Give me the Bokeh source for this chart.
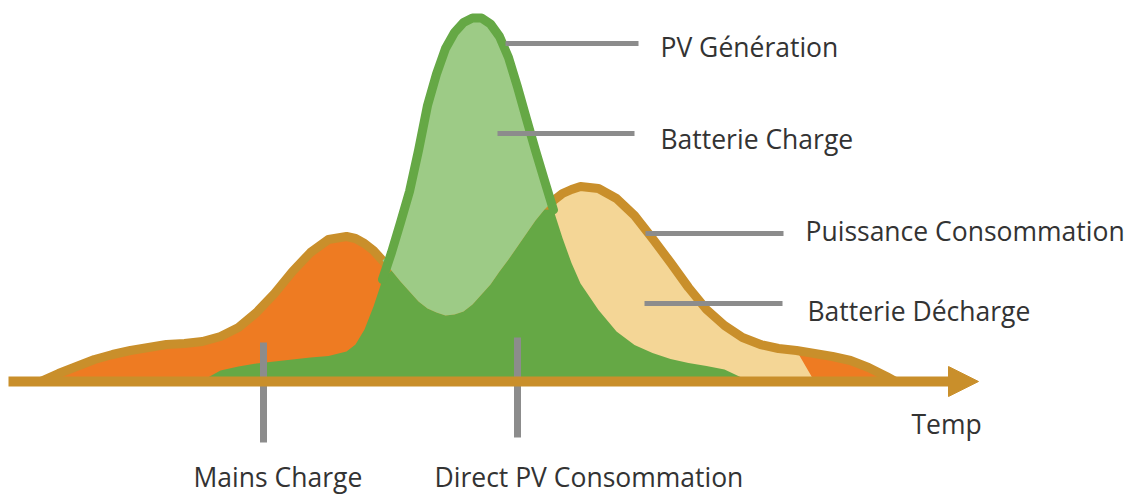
import numpy as np
from bokeh.plotting import figure
from bokeh.models import Range1d, ColumnDataSource, Arrow, NormalHead
from bokeh.core.properties import value
from bokeh.embed import file_html
from bokeh.resources import INLINE

# ---------------- data (time in hours, power in kW) ----------------
hours = [0, 0.5, 1, 1.5, 2, 2.5, 3, 3.5, 4, 4.5, 5, 5.5, 6, 6.5, 7, 7.5, 8, 8.5,
         8.75, 9, 9.25, 9.5, 9.75, 10, 10.25, 10.5, 10.75, 11, 11.25, 11.5, 11.75,
         12, 12.25, 12.5, 12.75, 13, 13.25, 13.5, 13.75, 14, 14.25, 14.5, 14.75,
         15, 15.5, 16, 16.5, 17, 17.5, 18, 18.5, 19, 19.5, 20, 20.5, 21, 21.5,
         22, 22.5, 23, 23.5, 23.75]

consumption = [0, 0.16, 0.30, 0.44, 0.54, 0.62, 0.68, 0.74, 0.76, 0.80, 0.90, 1.08,
               1.38, 1.76, 2.20, 2.58, 2.84, 2.90,
               2.86, 2.76, 2.62, 2.42, 2.22, 2.00, 1.80, 1.60, 1.46, 1.38, 1.32,
               1.34, 1.40, 1.54, 1.74, 1.94, 2.20, 2.44, 2.70, 2.96, 3.22, 3.44,
               3.62, 3.76, 3.84,
               3.90, 3.86, 3.66, 3.32, 2.86, 2.38, 1.88, 1.44, 1.12, 0.88, 0.74,
               0.66, 0.62, 0.56, 0.50, 0.42, 0.28, 0.10, 0]

pv_generation = [0, 0, 0, 0, 0, 0, 0, 0, 0, 0.02, 0.22, 0.30, 0.36, 0.40, 0.44, 0.48,
                 0.51, 0.60,
                 0.74, 1.04, 1.50, 2.04, 2.58, 3.18, 3.80, 4.62, 5.52, 6.15, 6.66,
                 6.98, 7.18, 7.27, 7.27, 7.15, 6.90, 6.48, 5.89, 5.25, 4.62, 4.02,
                 3.43, 2.87, 2.37,
                 1.96, 1.43, 1.00, 0.73, 0.57, 0.45, 0.37, 0.31, 0.24, 0.07, 0,
                 0, 0, 0, 0, 0, 0, 0, 0]

battery_discharge_start = 14.0   # h
battery_empty_top = 21.0         # h
battery_empty_bottom = 21.5      # h

labels = ["PV Génération", "Batterie Charge", "Puissance Consommation",
          "Batterie Décharge", "Temp", "Mains Charge", "Direct PV Consommation"]

# ---------------- styles ----------------
ORANGE = "#EE7B22"
GOLD = "#C98F2B"
DGREEN = "#65A845"
LGREEN = "#9DCB86"
YELLOW = "#F4D696"
GREY = "#8C8C8C"
TXT = "#333333"

t = np.array(hours, dtype=float)
cons = np.array(consumption, dtype=float)
pv = np.array(pv_generation, dtype=float)

# px -> data helpers for annotation layout (x=40px is t0, 36 px/h ; baseline 381px, 50 px/kW)
def tx(px):
    return (px - 40) / 36.0

def ky(py):
    return (381 - py) / 50.0

W, H = 1137, 494
p = figure(width=W, height=H, output_backend="svg", toolbar_location=None,
           x_axis_type=None, y_axis_type=None,
           x_range=Range1d(tx(0), tx(W)), y_range=Range1d(ky(H), ky(0)),
           min_border=0, outline_line_color=None,
           background_fill_color="white", border_fill_color="white")
p.grid.visible = False

# mains (grid) supply: whole area under consumption
p.varea(x=t, y1=0, y2=cons, fill_color=ORANGE)

# battery discharge area
m = (t >= battery_discharge_start) & (t <= battery_empty_top)
xd = list(t[m]) + [battery_empty_bottom]
yd = list(cons[m]) + [0]
p.varea(x=xd, y1=0, y2=yd, fill_color=YELLOW)

# consumption outline
p.line(t, cons, line_color=GOLD, line_width=9, line_join="round", line_cap="round")

# direct PV consumption
p.varea(x=t, y1=0, y2=np.minimum(pv, cons), fill_color=DGREEN)

# battery charge (PV surplus)
idx = np.where(pv > cons)[0]
lo, hi = idx.min() - 1, idx.max() + 1
ts = t[lo:hi + 1]
p.varea(x=ts, y1=cons[lo:hi + 1], y2=np.maximum(pv, cons)[lo:hi + 1], fill_color=LGREEN)

# PV generation outline where visible
p.line(ts, pv[lo:hi + 1], line_color=DGREEN, line_width=9, line_join="round", line_cap="round")

# time axis arrow
p.add_layout(Arrow(x_start=tx(8), y_start=0, x_end=tx(978), y_end=0,
                   line_color=GOLD, line_width=10,
                   end=NormalHead(size=30, fill_color=GOLD, line_color=GOLD, line_width=1)))

# leader lines
hl = ColumnDataSource(dict(x0=[tx(505), tx(497), tx(645), tx(644)],
                           x1=[tx(638), tx(634), tx(783), tx(782)],
                           y=[ky(43), ky(133), ky(233), ky(303)]))
p.segment(x0="x0", y0="y", x1="x1", y1="y", source=hl, line_color=GREY, line_width=5)
vl = ColumnDataSource(dict(x=[tx(263), tx(517)], y0=[ky(342), ky(337)], y1=[ky(442), ky(437)]))
p.segment(x0="x", y0="y0", x1="x", y1="y1", source=vl, line_color=GREY, line_width=7)

# labels
lab = ColumnDataSource(dict(
    x=[tx(660), tx(660), tx(805), tx(807), tx(911), tx(193), tx(434)],
    y=[ky(46), ky(138), ky(230), ky(310), ky(423), ky(476), ky(476)],
    text=labels))
p.text(x="x", y="y", text="text", source=lab, text_font=value("Open Sans"),
       text_font_size="26.5px", text_color=TXT, text_baseline="alphabetic", text_align="left")

open("out.html", "w").write(file_html(p, INLINE))
